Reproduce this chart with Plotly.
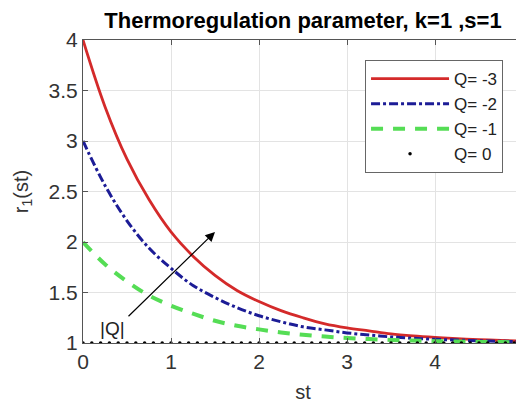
import plotly.graph_objects as go
import numpy as np

st = [0, 0.25, 0.5, 0.75, 1, 1.25, 1.5, 1.75, 2, 2.25, 2.5, 2.75, 3, 3.25, 3.5,
      3.75, 4, 4.25, 4.5, 4.75, 5]
r_q3 = [4.0, 3.34, 2.82, 2.42, 2.10, 1.86, 1.67, 1.52, 1.41, 1.32, 1.25, 1.19,
        1.15, 1.12, 1.09, 1.07, 1.055, 1.043, 1.033, 1.026, 1.02]
r_q2 = [3.0, 2.56, 2.21, 1.94, 1.74, 1.57, 1.45, 1.35, 1.27, 1.21, 1.16, 1.13,
        1.10, 1.08, 1.06, 1.047, 1.037, 1.029, 1.022, 1.017, 1.013]
r_q1 = [2.0, 1.78, 1.61, 1.47, 1.37, 1.29, 1.22, 1.17, 1.135, 1.105, 1.082,
        1.064, 1.05, 1.039, 1.03, 1.024, 1.018, 1.014, 1.011, 1.009, 1.007]
st_dots = [round(v, 1) for v in np.arange(0, 5.001, 0.1)]
r_q0 = [1, 1, 1, 1, 1, 1, 1, 1, 1, 1, 1, 1, 1, 1, 1, 1, 1, 1, 1, 1, 1, 1, 1, 1, 1,
        1, 1, 1, 1, 1, 1, 1, 1, 1, 1, 1, 1, 1, 1, 1, 1, 1, 1, 1, 1, 1, 1, 1, 1, 1, 1]

font = "Liberation Sans, Arial, sans-serif"
fig = go.Figure()
fig.add_trace(go.Scatter(x=st, y=r_q3, mode="lines", name="Q= -3",
                         line=dict(color="#d42a2a", width=2.8, shape="spline")))
fig.add_trace(go.Scatter(x=st, y=r_q2, mode="lines", name="Q= -2",
                         line=dict(color="#1c1c96", width=3, dash="dashdot", shape="spline")))
fig.add_trace(go.Scatter(x=st, y=r_q1, mode="lines", name="Q= -1",
                         line=dict(color="#55dd55", width=4, dash="12px,10px", shape="spline")))
fig.add_trace(go.Scatter(x=st_dots, y=r_q0, mode="markers", name="Q= 0",
                         marker=dict(color="black", size=3.5)))

fig.add_annotation(x=1.5, y=2.1, ax=0.5, ay=1.25, xref="x", yref="y",
                   axref="x", ayref="y", text="", showarrow=True,
                   arrowhead=2, arrowsize=1.6, arrowwidth=1.2, arrowcolor="black")
fig.add_annotation(x=0.34, y=1.14, xref="x", yref="y", text="|Q|",
                   showarrow=False, font=dict(size=19, color="#222", family=font))

axis_common = dict(showline=True, linecolor="#555", linewidth=1, mirror="ticks",
                   ticks="inside", ticklen=5, tickcolor="#555", showgrid=True,
                   gridcolor="#e3e3e3", gridwidth=1, zeroline=False, automargin=False,
                   ticklabeloverflow="allow",
                   tickfont=dict(size=21, color="#333", family=font))

fig.update_layout(
    width=516, height=398,
    margin=dict(l=75, r=1, t=32, b=63),
    paper_bgcolor="white", plot_bgcolor="white",
    title=dict(text="<b>Thermoregulation parameter, k=1 ,s=1</b>", x=0.5, xref="paper",
               xanchor="center", y=0.97, yanchor="middle",
               font=dict(size=22, color="black", family=font)),
    xaxis=dict(range=[0, 5], dtick=1, title=dict(text="st", standoff=12,
               font=dict(size=20, color="#333", family=font)), **axis_common),
    yaxis=dict(range=[1, 4], dtick=0.5, title=dict(text="r<sub>1</sub>(st)", standoff=14,
               font=dict(size=20, color="#333", family=font)), **axis_common),
    legend=dict(x=0.641, y=0.934, xanchor="left", yanchor="top",
                bgcolor="white", bordercolor="#666", borderwidth=1,
                font=dict(size=17, color="#222", family=font), itemwidth=78,
                tracegroupgap=0),
    showlegend=True,
)

fig.write_html("out.html")
